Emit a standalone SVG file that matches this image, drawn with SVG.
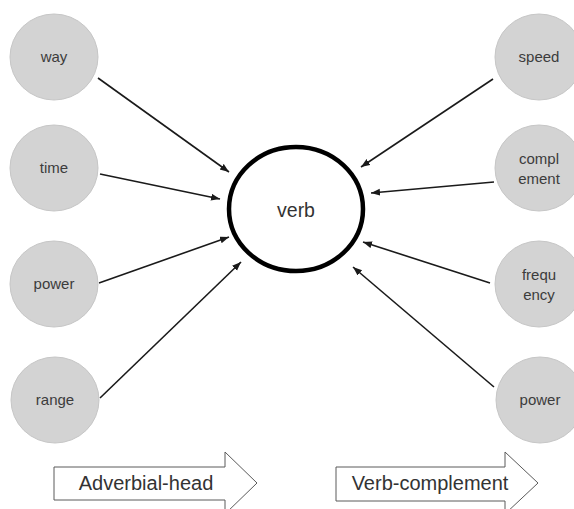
<svg xmlns="http://www.w3.org/2000/svg" width="574" height="509" viewBox="0 0 574 509">
  <style>
    .bubble ellipse { fill: #d3d3d3; stroke: #c6c6c6; stroke-width: 1; }
    .bubble text { font-family: "Liberation Sans", Arial, sans-serif; font-size: 15px; fill: #3c3c3c; text-anchor: middle; }
    .link { stroke: #1a1a1a; stroke-width: 1.6; fill: none; marker-end: url(#tip); }
    .banner path { fill: #ffffff; stroke: #5a5a5a; stroke-width: 1; }
    .banner text { font-family: "Liberation Sans", Arial, sans-serif; font-size: 20px; fill: #333333; text-anchor: middle; }
  </style>
  <defs>
    <marker id="tip" markerUnits="userSpaceOnUse" markerWidth="10" markerHeight="8" refX="9" refY="3.5" orient="auto">
      <path d="M0,0 L9,3.5 L0,7 Z" fill="#1a1a1a"/>
    </marker>
  </defs>
  <rect width="574" height="509" fill="#ffffff"/>

  <!-- connectors -->
  <g id="connectors">
    <line class="link" x1="98" y1="78" x2="229" y2="172"/>
    <line class="link" x1="100" y1="174" x2="220" y2="199"/>
    <line class="link" x1="99" y1="283" x2="229" y2="237"/>
    <line class="link" x1="100" y1="398" x2="241" y2="262"/>
    <line class="link" x1="493" y1="79" x2="361" y2="167"/>
    <line class="link" x1="494" y1="182" x2="371" y2="193"/>
    <line class="link" x1="490" y1="283" x2="363" y2="242"/>
    <line class="link" x1="494" y1="387" x2="353" y2="267"/>
  </g>

  <!-- central node -->
  <g id="verb">
    <ellipse cx="296" cy="209" rx="67" ry="62" fill="#ffffff" stroke="#000000" stroke-width="4.5"/>
    <text x="296" y="217" font-family="Liberation Sans, Arial, sans-serif" font-size="19.5" fill="#333333" text-anchor="middle">verb</text>
  </g>

  <!-- adverbial side -->
  <g id="way" class="bubble">
    <ellipse cx="54" cy="57" rx="44" ry="43"/>
    <text x="54" y="62">way</text>
  </g>
  <g id="time" class="bubble">
    <ellipse cx="54" cy="168" rx="44" ry="43"/>
    <text x="54" y="173">time</text>
  </g>
  <g id="power-left" class="bubble">
    <ellipse cx="54" cy="284" rx="44" ry="43"/>
    <text x="54" y="289">power</text>
  </g>
  <g id="range" class="bubble">
    <ellipse cx="55" cy="400" rx="44" ry="43"/>
    <text x="55" y="405">range</text>
  </g>

  <!-- complement side -->
  <g id="speed" class="bubble">
    <ellipse cx="539" cy="57" rx="44" ry="43"/>
    <text x="539" y="62">speed</text>
  </g>
  <g id="complement" class="bubble">
    <ellipse cx="539" cy="168" rx="44" ry="43"/>
    <text x="539" y="164">compl</text>
    <text x="539" y="184">ement</text>
  </g>
  <g id="frequency" class="bubble">
    <ellipse cx="539" cy="284" rx="44" ry="43"/>
    <text x="539" y="280">frequ</text>
    <text x="539" y="300">ency</text>
  </g>
  <g id="power-right" class="bubble">
    <ellipse cx="540" cy="400" rx="44" ry="43"/>
    <text x="540" y="405">power</text>
  </g>

  <!-- direction banners -->
  <g id="adverbial-head" class="banner">
    <path d="M54,467 H225 V452 L257,483 L225,514 V500 H54 Z"/>
    <text x="146" y="490">Adverbial-head</text>
  </g>
  <g id="verb-complement" class="banner">
    <path d="M336,467 H505 V452 L538,483 L505,514 V501 H336 Z"/>
    <text x="430" y="490">Verb-complement</text>
  </g>
</svg>
